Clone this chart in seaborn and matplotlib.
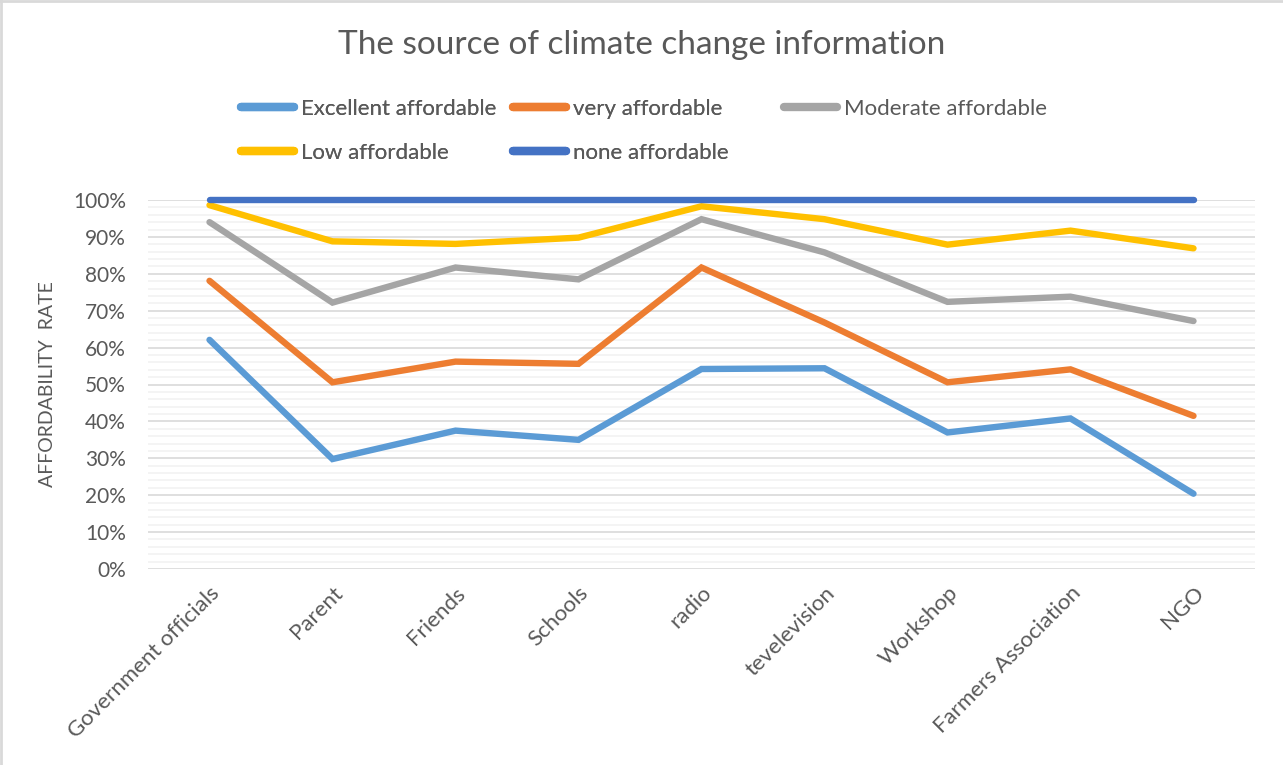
import pandas as pd
import matplotlib.pyplot as plt
import seaborn as sns
from matplotlib.ticker import MultipleLocator, PercentFormatter
from matplotlib.lines import Line2D

# Dados
categorias = ["Government officials", "Parent", "Friends", "Schools", "radio",
              "tevelevision", "Workshop", "Farmers Association", "NGO"]
excellent = [62.1, 29.8, 37.5, 35.0, 54.2, 54.4, 37.0, 40.8, 20.4]
very = [78.1, 50.6, 56.2, 55.6, 81.7, 66.8, 50.6, 54.1, 41.5]
moderate = [94.0, 72.2, 81.7, 78.5, 94.8, 85.8, 72.4, 73.8, 67.2]
low = [98.6, 88.8, 88.1, 89.8, 98.3, 94.8, 87.9, 91.7, 86.9]
none = [100, 100, 100, 100, 100, 100, 100, 100, 100]

series = ["Excellent affordable", "very affordable", "Moderate affordable",
          "Low affordable", "none affordable"]
cores = ["#5B9BD5", "#ED7D31", "#A5A5A5", "#FFC000", "#4472C4"]

df = pd.DataFrame({"Fonte": categorias, series[0]: excellent, series[1]: very,
                   series[2]: moderate, series[3]: low, series[4]: none})
df_long = df.melt(id_vars="Fonte", var_name="Serie", value_name="Valor")
df_long["x"] = df_long["Fonte"].map({c: i for i, c in enumerate(categorias)})

# Estilo
sns.set_theme(style="white")
plt.rcParams["font.family"] = ["Lato", "DejaVu Sans"]
texto = "#595959"

fig = plt.figure(figsize=(12.83, 7.65), dpi=100)
ax = fig.add_axes([148 / 1283, 1 - 569 / 765, (1255 - 148) / 1283, 369 / 765])

sns.lineplot(data=df_long, x="x", y="Valor", hue="Serie", hue_order=series,
             palette=cores, linewidth=4.6, ax=ax, legend=False, sort=False)
for ln in ax.get_lines():
    ln.set_solid_capstyle("round")
    ln.set_solid_joinstyle("miter")
    ln.set_clip_on(False)

ax.set_xlim(-0.5, len(categorias) - 0.5)
ax.set_ylim(0, 100)
ax.yaxis.set_major_locator(MultipleLocator(10))
ax.yaxis.set_minor_locator(MultipleLocator(2))
ax.yaxis.set_major_formatter(PercentFormatter(decimals=0))
ax.grid(which="major", axis="y", color="#D9D9D9", linewidth=1.2, zorder=0)
ax.grid(which="minor", axis="y", color="#F2F2F2", linewidth=1.2, zorder=0)
ax.set_axisbelow(True)
for s in ax.spines.values():
    s.set_visible(False)

ax.set_xticks(range(len(categorias)))
ax.set_xticklabels(categorias, rotation=45, ha="right", rotation_mode="anchor",
                   fontsize=16, color=texto)
ax.tick_params(axis="x", length=0, pad=10)
ax.tick_params(axis="y", which="both", length=0, labelsize=15, labelcolor=texto, pad=16)
ax.set_xlabel("")
ax.set_ylabel("AFFORDABILITY  RATE", fontsize=14, color=texto, labelpad=12)

fig.text(0.5, 1 - 45 / 765, "The source of climate change information",
         ha="center", va="center", fontsize=24, color=texto)

# Legenda: duas primeiras colunas + terceira coluna separada
handles = [Line2D([0], [0], color=c, linewidth=6, solid_capstyle="round") for c in cores]
ordem = [0, 3, 1, 4]
kw = dict(frameon=False, fontsize=16, labelcolor=texto, handlelength=2.4,
          handletextpad=0.3, borderpad=0, borderaxespad=0)
leg1 = fig.legend([handles[i] for i in ordem], [series[i] for i in ordem], ncol=2,
                  loc="center left", bbox_to_anchor=(241 / 1283, 1 - 131 / 765),
                  columnspacing=0.75, labelspacing=1.1, **kw)
fig.add_artist(leg1)
fig.legend([handles[2]], [series[2]], loc="center left",
           bbox_to_anchor=(784 / 1283, 1 - 109 / 765), **kw)

# Borda do gráfico (topo e esquerda)
fig.add_artist(Line2D([0, 1], [0.999, 0.999], color="#D9D9D9", linewidth=2,
                      transform=fig.transFigure))
fig.add_artist(Line2D([0.001, 0.001], [0, 1], color="#D9D9D9", linewidth=2,
                      transform=fig.transFigure))

fig.savefig("out.png", dpi=100, facecolor="white")
